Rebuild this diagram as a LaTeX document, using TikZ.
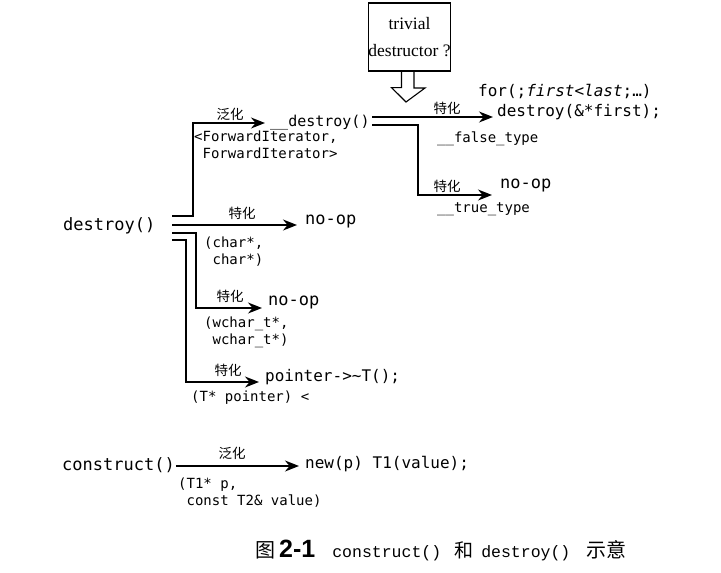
\documentclass[tikz,border=0pt]{standalone}
\usepackage{fontspec}
\setmonofont{DejaVu Sans Mono}
\newfontfamily\cjk{Noto Sans CJK SC}
\newfontfamily\boxserif{Liberation Serif}
\newfontfamily\capmono{Liberation Mono}
\newfontfamily\capsans{Liberation Sans}
\usetikzlibrary{arrows.meta, calc, positioning}
\tikzset{>={Stealth[length=14pt,width=11pt]}}
\tikzset{
  code/.style={font=\ttfamily\fontsize{17}{19}\selectfont, inner sep=0pt, anchor=west},
  subcode/.style={font=\ttfamily\fontsize{15}{17}\selectfont, inner sep=0pt, anchor=west},
  args/.style={font=\ttfamily\fontsize{14}{17}\selectfont, align=left, inner sep=0pt, anchor=north west},
  tag/.style={font=\cjk\fontsize{13.5}{15}\selectfont, inner sep=0pt, anchor=south},
  link/.style={line width=1.4pt},
}

\begin{document}
\begin{tikzpicture}[x=1pt,y=-1pt]
  \useasboundingbox (0,0) rectangle (721,573);

  % question box and hollow arrow
  \node [draw, line width=1.1pt, minimum width=81pt, minimum height=68pt, inner sep=0pt,
         align=center, font=\boxserif\fontsize{17.5}{27}\selectfont] (trivial) at (409.5,37) {trivial\\destructor ?};
  \draw [line width=1.1pt] (trivial.south) ++(-8,0) -- ++(0,16) -- ++(-10,0) -- (406,102)
        coordinate (hollow) -- ++(19,-14) -- ++(-11,0) -- ++(0,-16);

  % destroy() and its four branches
  \node [code] (destroy) at (63,226) {destroy()};
  \node [subcode] (gdestroy) at (270,123) {\_\_destroy()};
  \node [code] (noopa) at (305,222) {no-op};
  \node [code] (noopb) at (268,303) {no-op};
  \node [code, font=\ttfamily\fontsize{16}{18}\selectfont] (ptr) at (265,377) {pointer->\string~T();};

  \coordinate (ba) at (172,216);
  \coordinate (bb) at (172,225);
  \coordinate (bc) at (172,233);
  \coordinate (bd) at (172,240);
  \draw [link,->] (ba) -- ++(21,0) |- ([xshift=-5pt]gdestroy.west);
  \draw [link,->] (bb) -- ([xshift=-8pt]noopa.west |- bb);
  \draw [link,->] (bc) -- ++(24,0) |- ($(noopb.west)+(-6,5)$);
  \draw [link,->] (bd) -- ++(14,0) |- ($(ptr.west)+(-6,5)$);

  \node [tag] at (230,121) {泛化};
  \node [tag] at (242,220) {特化};
  \node [tag] at (230,303) {特化};
  \node [tag] at (228,377) {特化};

  \node [args] (fwd) at (194,131) {<ForwardIterator,\\\phantom{<}ForwardIterator>};
  \node [args] (chr) at (204,237) {(char*,\\\phantom{(}char*)};
  \node [args] (wchr) at (204,317) {(wchar\_t*,\\\phantom{(}wchar\_t*)};
  \node [args] (tptr) at (191,391) {(T* pointer) <};

  % __destroy() and its two branches
  \node [subcode, font=\ttfamily\fontsize{16}{18}\selectfont] (forloop) at (478,91) {for(;\textit{first<last};\ldots)};
  \node [subcode, font=\ttfamily\fontsize{16}{18}\selectfont] (dfirst) at (497,112) {destroy(\&*first);};
  \node [code] (noopc) at (500,186) {no-op};

  \coordinate (be) at (372,117);
  \coordinate (bf) at (372,125);
  \draw [link,->] (be) -- ([xshift=-4pt]dfirst.west |- be);
  \draw [link,->] (bf) -- ++(46,0) |- ($(noopc.west)+(-8,9)$);

  \node [tag] at (447,115) {特化};
  \node [tag] at (447,193) {特化};
  \node [args] (falsety) at (437,132) {\_\_false\_type};
  \node [args] (truety) at (437,202) {\_\_true\_type};

  % construct()
  \node [code] (construct) at (62,465) {construct()};
  \node [code, font=\ttfamily\fontsize{16}{18}\selectfont] (newp) at (305,464) {new(p) T1(value);};
  \draw [link,->] (construct.east) ++(1,1) -- ([xshift=-6pt]newp.west |- 0,466);
  \node [tag] at (232,460) {泛化};
  \node [args] (targs) at (178,478) {(T1* p,\\\phantom{(}const T2\& value)};

  % caption
  \node [inner sep=0pt, anchor=west] (caption) at (255,550)
    {{\cjk\fontsize{20}{24}\selectfont 图}\hspace{4pt}{\capsans\bfseries\fontsize{25}{26}\selectfont 2-1}\hspace{17pt}{\capmono\fontsize{16.5}{18}\selectfont construct()}\hspace{13pt}{\cjk\fontsize{19}{24}\selectfont 和}\hspace{8pt}{\capmono\fontsize{16.5}{18}\selectfont destroy()}\hspace{16pt}{\cjk\fontsize{20}{24}\selectfont 示意}};
\end{tikzpicture}
\end{document}
